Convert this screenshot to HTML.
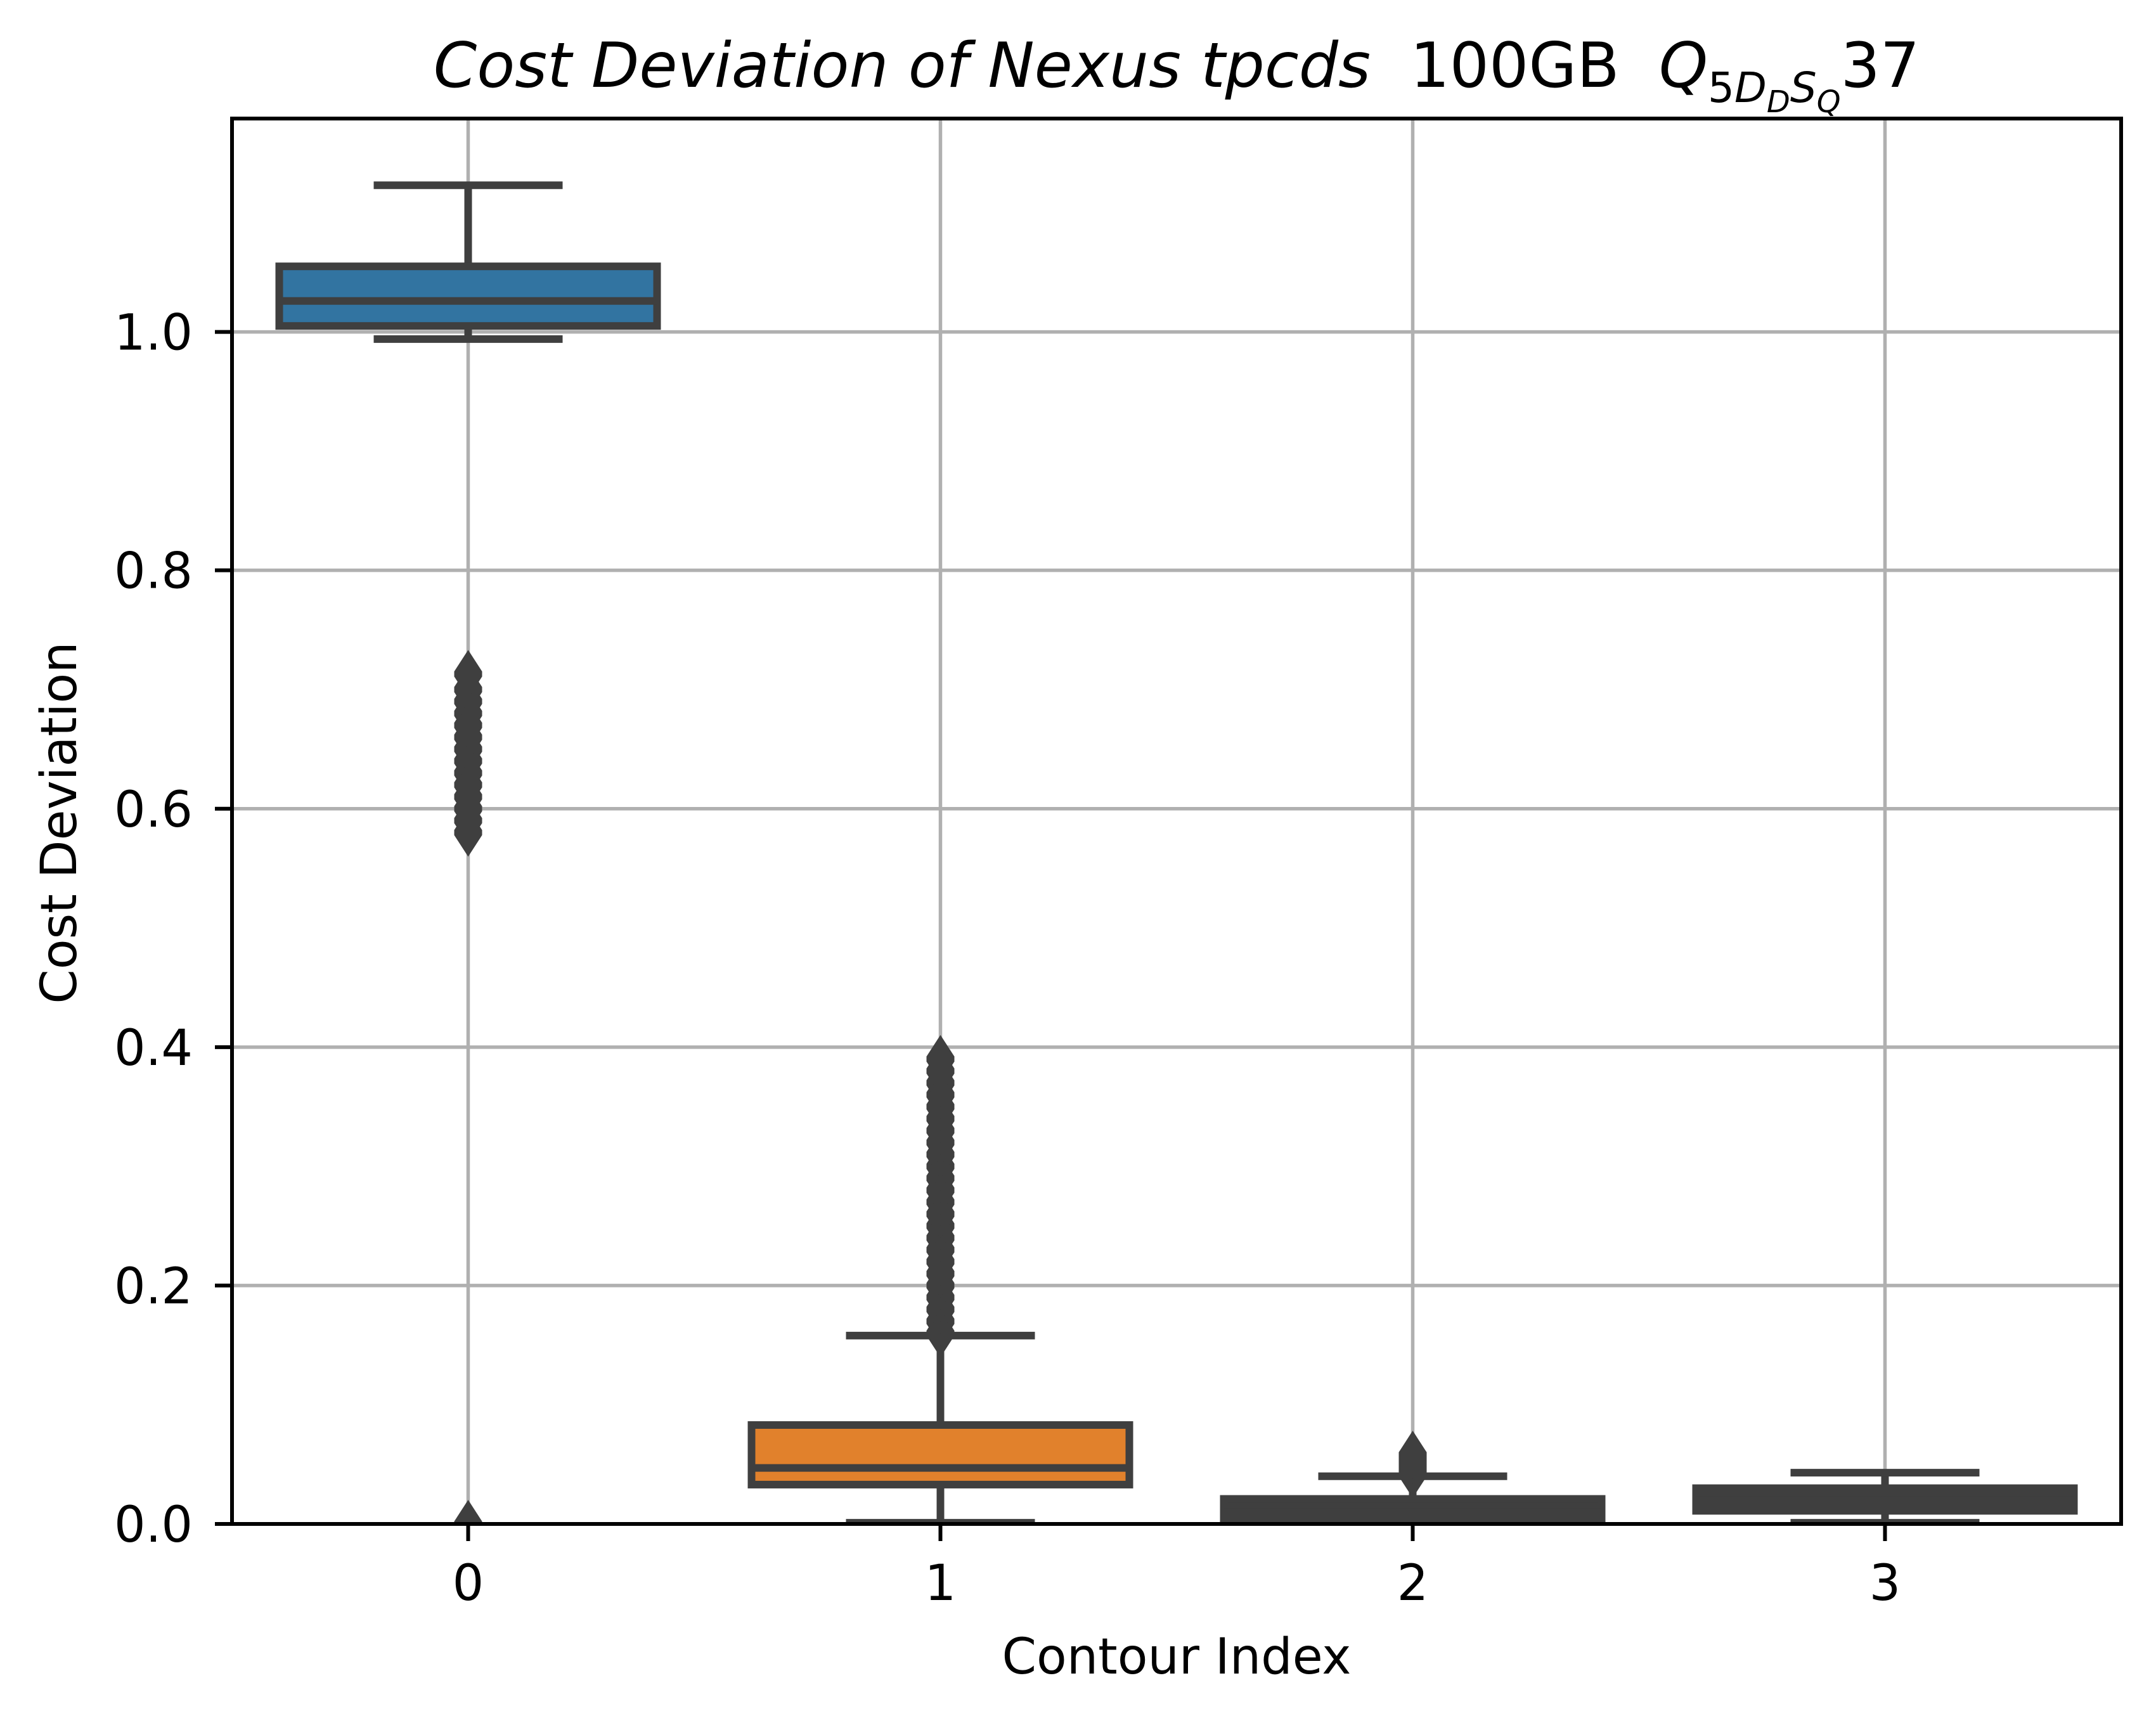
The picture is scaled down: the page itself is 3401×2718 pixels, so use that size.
<!DOCTYPE html>
<html><head><meta charset="utf-8"><style>html,body{margin:0;padding:0;background:#fff}svg{display:block}</style></head>
<body>
<svg id="chart" width="3401" height="2718" viewBox="0 0 3401 2718" xmlns="http://www.w3.org/2000/svg" font-family="'DejaVu Sans','Liberation Sans',sans-serif">
<defs><clipPath id="plotclip"><rect x="366" y="187" width="2980" height="2217"/></clipPath></defs>
<rect width="3401" height="2718" fill="#fff"/>
<g id="grid"></g>
<g id="marks" clip-path="url(#plotclip)"></g>
<g id="axes"></g>
<text x="1856" y="137" text-anchor="middle" font-size="98"><tspan font-style="italic">Cost Deviation of Nexus tpcds</tspan><tspan xml:space="preserve">  100GB  </tspan><tspan font-style="italic">Q</tspan><tspan font-size="66" dy="24">5</tspan><tspan font-size="66" font-style="italic">D</tspan><tspan font-size="48" font-style="italic" dy="16">D</tspan><tspan font-size="66" font-style="italic" dy="-16">S</tspan><tspan font-size="48" font-style="italic" dy="16">Q</tspan><tspan dy="-40">37</tspan></text>
<text x="1856" y="2640" text-anchor="middle" font-size="78">Contour Index</text>
<text transform="translate(120,1298) rotate(-90)" text-anchor="middle" font-size="78">Cost Deviation</text>
</svg>
<script>
const categories = ['0','1','2','3'];
const whiskerLow = [0.994, 0.001, 0.001, 0.001];
const q1 = [1.005, 0.033, 0.004, 0.011];
const median = [1.026, 0.047, 0.010, 0.020];
const q3 = [1.055, 0.083, 0.021, 0.030];
const whiskerHigh = [1.123, 0.158, 0.040, 0.043];
const outliers0 = [0.0, 0.58, 0.59, 0.60, 0.61, 0.62, 0.63, 0.64, 0.65, 0.66, 0.67, 0.68, 0.69, 0.70, 0.713];
const outliers1 = [0.16, 0.17, 0.18, 0.19, 0.20, 0.21, 0.22, 0.23, 0.24, 0.25, 0.26, 0.27, 0.28, 0.29, 0.30, 0.31, 0.32, 0.33, 0.34, 0.35, 0.36, 0.37, 0.38, 0.39];
const outliers2 = [0.042, 0.046, 0.050, 0.054, 0.058];
const outliers3 = [];
const colors = ['#3274a1', '#e1812c', '#3f3f3f', '#3f3f3f'];
const yTicks = [0.0, 0.2, 0.4, 0.6, 0.8, 1.0];
const yTickLabels = ['0.0', '0.2', '0.4', '0.6', '0.8', '1.0'];

const L = 366, R = 3346, T = 187, B = 2404;
const yMax = 1.179;
const NS = 'http://www.w3.org/2000/svg';
function xs(i) { return L + (i + 0.5) * (R - L) / categories.length; }
function ys(v) { return B - v / yMax * (B - T); }
function mk(tag, attrs, parent) {
  const e = document.createElementNS(NS, tag);
  for (const k in attrs) e.setAttribute(k, attrs[k]);
  parent.appendChild(e);
  return e;
}
const grid = document.getElementById('grid');
const marks = document.getElementById('marks');
const axes = document.getElementById('axes');
const step = (R - L) / categories.length;

yTicks.forEach((t, i) => {
  const g = mk('line', {x1: L, x2: R, y1: ys(t), y2: ys(t), stroke: '#b0b0b0', 'stroke-width': 5.5}, grid);
  
  
  const tk = mk('line', {x1: L - 27, x2: L, y1: ys(t), y2: ys(t), stroke: '#000', 'stroke-width': 6}, axes);
  
  
  const lb = mk('text', {x: L - 62, y: ys(t) + 28, 'text-anchor': 'end', 'font-size': 78}, axes);
  lb.textContent = yTickLabels[i];
  
  
});
categories.forEach((c, i) => {
  const g = mk('line', {x1: xs(i), x2: xs(i), y1: T, y2: B, stroke: '#b0b0b0', 'stroke-width': 5.5}, grid);
  
  
  const tk = mk('line', {x1: xs(i), x2: xs(i), y1: B, y2: B + 27, stroke: '#000', 'stroke-width': 6}, axes);
  
  
  const lb = mk('text', {x: xs(i), y: B + 120, 'text-anchor': 'middle', 'font-size': 78}, axes);
  lb.textContent = c;
  
  
});
const frame = mk('rect', {x: L, y: T, width: R - L, height: B - T, fill: 'none', stroke: '#000', 'stroke-width': 6}, axes);



const allOut = [outliers0, outliers1, outliers2, outliers3];
const dark = '#3f3f3f';
categories.forEach((c, i) => {
  const cx = xs(i), bw = step * 0.8, cw = bw / 2;
  const g = mk('g', {}, marks);
  
  
  const w1 = mk('line', {x1: cx, x2: cx, y1: ys(whiskerLow[i]), y2: ys(q1[i]), stroke: dark, 'stroke-width': 12}, g);
  
  
  const w2 = mk('line', {x1: cx, x2: cx, y1: ys(q3[i]), y2: ys(whiskerHigh[i]), stroke: dark, 'stroke-width': 12}, g);
  
  
  const c1 = mk('line', {x1: cx - cw / 2, x2: cx + cw / 2, y1: ys(whiskerLow[i]), y2: ys(whiskerLow[i]), stroke: dark, 'stroke-width': 12}, g);
  
  
  const c2 = mk('line', {x1: cx - cw / 2, x2: cx + cw / 2, y1: ys(whiskerHigh[i]), y2: ys(whiskerHigh[i]), stroke: dark, 'stroke-width': 12}, g);
  
  
  const bx = mk('rect', {x: cx - bw / 2, y: ys(q3[i]), width: bw, height: ys(q1[i]) - ys(q3[i]), fill: colors[i], stroke: dark, 'stroke-width': 12}, g);
  
  
  const md = mk('line', {x1: cx - bw / 2, x2: cx + bw / 2, y1: ys(median[i]), y2: ys(median[i]), stroke: dark, 'stroke-width': 12}, g);
  
  
  allOut[i].forEach(v => {
    const y = ys(v);
    const p = mk('polygon', {points: `${cx},${y - 38} ${cx + 22},${y - 4} ${cx + 22},${y + 4} ${cx},${y + 38} ${cx - 22},${y + 4} ${cx - 22},${y - 4}`, fill: dark}, g);
    
    
  });
});
</script>
</body></html>
